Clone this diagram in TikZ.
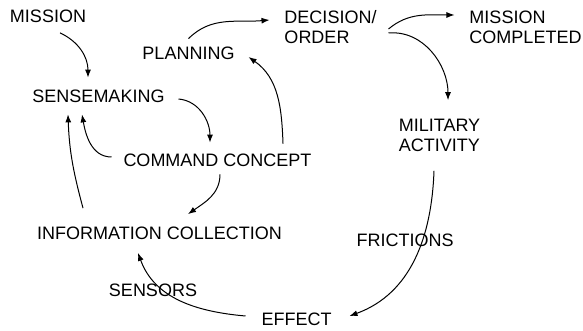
\documentclass[tikz,border=0pt]{standalone}
\usepackage{fontspec}
\setmainfont{Liberation Sans}
\usepackage{tikz}
\usetikzlibrary{arrows.meta,positioning}

\begin{document}
\begin{tikzpicture}[x=1pt, y=1pt, line width=1pt, >={Latex[length=8pt,width=6pt]},
	every node/.style={inner sep=0pt, outer sep=0pt, font=\fontsize{18}{20}\selectfont, align=left}]
				\useasboundingbox (0,0) rectangle (583,331);

				\node (mission)   at (48,314.5)  {MISSION};
				\node (planning)  at (188.5,278) {PLANNING};
				\node (decision)  at (330.5,304) {DECISION/\\ORDER};
				\node (completed) at (525.5,304) {MISSION\\COMPLETED};
				\node (sense)     at (98.5,235)  {SENSEMAKING};
				\node (concept)   at (217.5,171) {COMMAND CONCEPT};
				\node (military)  at (439.5,195.5) {MILITARY\\ACTIVITY};
				\node (info)      at (159.5,97.5) {INFORMATION COLLECTION};
				\node (frictions) at (405,91)    {FRICTIONS};
				\node (sensors)   at (153,40.5)  {SENSORS};
				\node (effect)    at (296.5,11.5) {EFFECT};

				\draw[->] ([xshift=12pt,yshift=-10pt]mission.south) to[out=-25, in=90] ([xshift=-10.5pt,yshift=12pt]sense.north);
				\draw[->] ([xshift=14pt,yshift=-3pt]sense.east) to[out=-5, in=90] ([xshift=-7.5pt,yshift=11pt]concept.north);
				\draw[->] ([xshift=-12pt,yshift=3pt]concept.west) to[out=180, in=-80] ([xshift=-16.5pt,yshift=-12pt]sense.south);
				\draw[->] ([xshift=65.5pt,yshift=10pt]concept.north) to[out=92, in=-35] ([xshift=14pt,yshift=-4pt]planning.east);
				\draw[->] ([yshift=8pt]planning.north) to[out=45, in=185] ([xshift=-15pt,yshift=7pt]decision.west);
				\draw[->] ([xshift=12pt,yshift=-2pt]decision.east) to[out=40, in=180] ([xshift=-15pt,yshift=12pt]completed.west);
				\draw[->] ([xshift=12pt,yshift=-6pt]decision.east) to[out=5, in=90] ([xshift=8.5pt,yshift=19pt]military.north);
				\draw[->] ([xshift=-5.5pt,yshift=-19pt]military.south) to[out=-92, in=20] ([xshift=18pt,yshift=3.5pt]effect.east);
				\draw[->] ([xshift=2.5pt,yshift=-8pt]concept.south) to[out=-90, in=35] ([xshift=28.5pt,yshift=13pt]info.north);
				\draw[->] ([xshift=-76.5pt,yshift=19pt]info.north) to[out=105, in=-88] ([xshift=-30.5pt,yshift=-12pt]sense.south);
				\draw[->] ([xshift=-16pt,yshift=3.5pt]effect.west) to[out=175, in=-70] ([xshift=-21.5pt,yshift=-13pt]info.south);
			\end{tikzpicture}
\end{document}
